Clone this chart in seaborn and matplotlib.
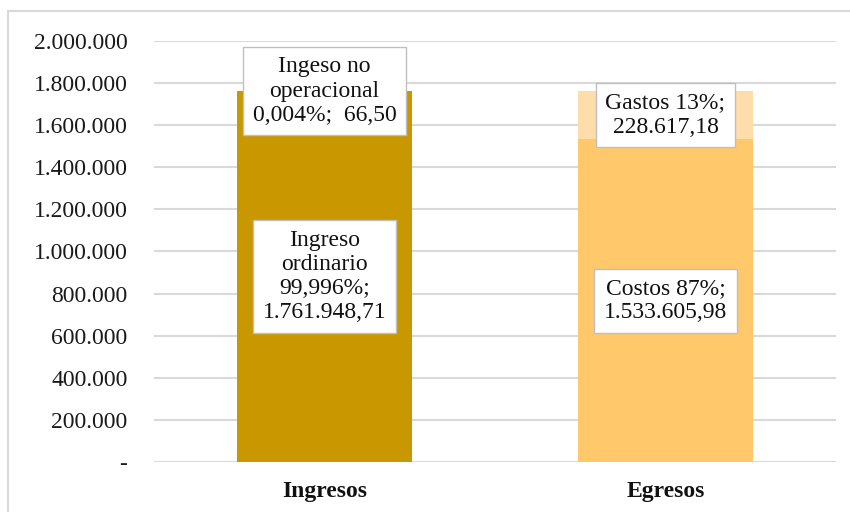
import numpy as np
import pandas as pd
import seaborn as sns
import matplotlib.pyplot as plt
from matplotlib.patches import Rectangle

# data
groups = ["Ingresos", "Egresos"]
lower_names = ["Ingreso\nordinario", "Costos"]
lower_values = [1761948.71, 1533605.98]
upper_names = ["Ingeso no\noperacional", "Gastos"]
upper_values = [66.50, 228617.18]
lower_pct_dec = [3, 0]
upper_pct_dec = [3, 0]

lower_colors = ["#C99700", "#FFC96B"]
upper_colors = ["#C99700", "#FFDDAA"]


def es_num(v, dec=2):
    s = f"{v:,.{dec}f}"
    return s.replace(",", "X").replace(".", ",").replace("X", ".")


df = pd.DataFrame({
    "grupo": groups,
    "bajo": lower_values,
    "alto": upper_values,
})
df["total"] = df["bajo"] + df["alto"]

sns.set_theme(style="white")
plt.rcParams["font.family"] = ["Liberation Serif", "DejaVu Serif"]

fig = plt.figure(figsize=(8.5, 5.12), dpi=100)
ax = fig.add_axes([0.181, 0.0977, 0.8025, 0.8223])

# stacked bars: totals first, lower segment on top of it
sns.barplot(data=df, x="grupo", y="total", hue="grupo", palette=upper_colors,
            width=0.515, saturation=1, legend=False, linewidth=0, ax=ax, zorder=2)
sns.barplot(data=df, x="grupo", y="bajo", hue="grupo", palette=lower_colors,
            width=0.515, saturation=1, legend=False, linewidth=0, ax=ax, zorder=3)

ax.set_ylim(0, 2000000)
ax.set_xlim(-0.5, 1.5)
ticks = np.arange(0, 2000001, 200000)
ax.set_yticks(ticks)
ax.set_yticklabels(["-" if t == 0 else es_num(t, 0) for t in ticks])
ax.yaxis.grid(True, color="#D9D9D9", lw=1.5, zorder=0)
ax.set_axisbelow(True)
for s in ax.spines.values():
    s.set_visible(False)
ax.tick_params(axis="y", length=0, pad=19, labelsize=17, labelcolor="#1a1a1a")
ax.tick_params(axis="x", length=0, pad=14, labelsize=17, labelcolor="#111111")
for lbl in ax.get_xticklabels():
    lbl.set_fontweight("bold")
ax.set_xlabel("")
ax.set_ylabel("")

box = dict(boxstyle="square,pad=0.4", fc="white", ec="#BFBFBF", lw=1)
for i, row in df.iterrows():
    tot = row["total"]
    lp = row["bajo"] / tot * 100
    up = row["alto"] / tot * 100
    if i == 0:
        low_txt = f"{lower_names[i]}\n{es_num(lp, lower_pct_dec[i])}%;\n{es_num(row['bajo'])}"
        up_txt = f"{upper_names[i]}\n{es_num(up, upper_pct_dec[i])}%;  {es_num(row['alto'])}"
        up_y = tot
    else:
        low_txt = f"{lower_names[i]} {es_num(lp, lower_pct_dec[i])}%;\n{es_num(row['bajo'])}"
        up_txt = f"{upper_names[i]} {es_num(up, upper_pct_dec[i])}%;\n{es_num(row['alto'])}"
        up_y = row["bajo"] + row["alto"] / 2
    ax.text(i, row["bajo"] / 2, low_txt, ha="center", va="center", fontsize=17,
            linespacing=1.2, color="#111111", bbox=box, zorder=5)
    ax.text(i, up_y, up_txt, ha="center", va="center", fontsize=17,
            linespacing=1.2, color="#111111", bbox=box, zorder=5)

fig.patches.append(Rectangle((8 / 850, -0.1), 1.0, (512 - 11) / 512 + 0.1,
                             transform=fig.transFigure, fill=False,
                             ec="#D9D9D9", lw=1.5))

fig.savefig("out.png", dpi=100)
